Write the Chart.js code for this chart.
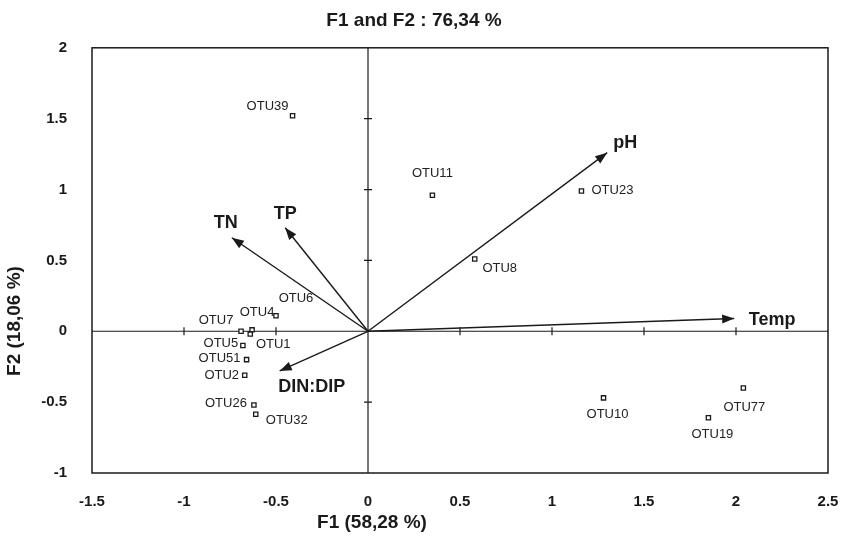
<!DOCTYPE html>
<html>
<head>
<meta charset="utf-8">
<script src="https://cdn.jsdelivr.net/npm/chart.js@4.4.1/dist/chart.umd.min.js"></script>
<style>
  html, body { margin: 0; padding: 0; background: #fff; }
  #wrap { width: 846px; height: 546px; }
</style>
</head>
<body>
<div id="wrap"><canvas id="biplot"></canvas></div>
<script>
// OTU scores (F1, F2)
const otuNames = ["OTU39", "OTU11", "OTU23", "OTU8", "OTU10", "OTU77", "OTU19", "OTU6",
                  "OTU7", "OTU4", "OTU1", "OTU5", "OTU51", "OTU2", "OTU26", "OTU32"];
const otuF1 = [-0.41, 0.35, 1.16, 0.58, 1.28, 2.04, 1.85, -0.50,
               -0.69, -0.63, -0.64, -0.68, -0.66, -0.67, -0.62, -0.61];
const otuF2 = [1.52, 0.96, 0.99, 0.51, -0.47, -0.40, -0.61, 0.11,
               0.00, 0.01, -0.02, -0.10, -0.20, -0.31, -0.52, -0.585];

// environmental vectors (arrow tips)
const varNames = ["pH", "Temp", "TN", "TP", "DIN:DIP"];
const varF1 = [1.30, 1.99, -0.74, -0.45, -0.48];
const varF2 = [1.26, 0.09, 0.66, 0.73, -0.28];

const xTicks = [-1.5, -1, -0.5, 0, 0.5, 1, 1.5, 2, 2.5];
const yTicks = [-1, -0.5, 0, 0.5, 1, 1.5, 2];

// label offsets in px (dx, dy) from marker
const otuLabelOffset = [[-25, -9], [0, -22], [31, -1], [25, 9], [4, 17], [1, 19], [4, 17], [20, -17],
                        [-25, -11], [5, -17], [23, 10], [-22, -2], [-27, -1], [-23, 0], [-28, -2], [31, 6]];
const varLabelOffset = [[18, -10], [38, 2], [-6, -15], [0, -14], [32, 16]];

const SANS = '"Liberation Sans", Arial, sans-serif';
const INK = "#1a1a1a";

const datasets = [{
  label: "OTUs",
  data: otuF1.map((x, i) => ({ x, y: otuF2[i] })),
  pointStyle: "rect",
  pointRadius: 3,
  pointBorderWidth: 1.3,
  pointBorderColor: INK,
  pointBackgroundColor: "#fff",
  showLine: false
}];
varNames.forEach((n, i) => {
  datasets.push({
    label: n,
    type: "line",
    data: [{ x: 0, y: 0 }, { x: varF1[i], y: varF2[i] }],
    borderColor: INK,
    borderWidth: 1.4,
    pointRadius: 0,
    fill: false
  });
});

const biplotDecor = {
  id: "biplotDecor",
  beforeDatasetsDraw(chart) {
    const { ctx, chartArea: a, scales: { x, y } } = chart;
    const x0 = x.getPixelForValue(0), y0 = y.getPixelForValue(0);
    ctx.save();
    ctx.strokeStyle = INK;
    ctx.lineWidth = 1.2;
    ctx.beginPath();
    ctx.moveTo(x0, a.top); ctx.lineTo(x0, a.bottom);
    ctx.moveTo(a.left, y0); ctx.lineTo(a.right, y0);
    xTicks.forEach(v => {
      if (v === 0 || v === xTicks[0] || v === xTicks[xTicks.length - 1]) return;
      const px = x.getPixelForValue(v);
      ctx.moveTo(px, y0 - 4); ctx.lineTo(px, y0 + 4);
    });
    yTicks.forEach(v => {
      if (v === 0 || v === yTicks[0] || v === yTicks[yTicks.length - 1]) return;
      const py = y.getPixelForValue(v);
      ctx.moveTo(x0 - 4, py); ctx.lineTo(x0 + 4, py);
    });
    ctx.stroke();
    ctx.lineWidth = 1.5;
    ctx.strokeRect(a.left, a.top, a.right - a.left, a.bottom - a.top);
    ctx.restore();
  },
  afterDatasetsDraw(chart) {
    const { ctx } = chart;
    ctx.save();
    // arrowheads + vector labels
    varNames.forEach((n, i) => {
      const pts = chart.getDatasetMeta(i + 1).data;
      const p0 = pts[0], p1 = pts[1];
      const ang = Math.atan2(p1.y - p0.y, p1.x - p0.x);
      const len = 12, half = 4.5;
      ctx.fillStyle = INK;
      ctx.beginPath();
      ctx.moveTo(p1.x, p1.y);
      ctx.lineTo(p1.x - len * Math.cos(ang) + half * Math.sin(ang), p1.y - len * Math.sin(ang) - half * Math.cos(ang));
      ctx.lineTo(p1.x - len * Math.cos(ang) - half * Math.sin(ang), p1.y - len * Math.sin(ang) + half * Math.cos(ang));
      ctx.closePath();
      ctx.fill();
      ctx.font = "bold 18px " + SANS;
      ctx.textAlign = "center";
      ctx.textBaseline = "middle";
      ctx.fillText(n, p1.x + varLabelOffset[i][0], p1.y + varLabelOffset[i][1]);
    });
    // OTU labels
    const meta = chart.getDatasetMeta(0).data;
    ctx.font = "13px " + SANS;
    ctx.fillStyle = "#222";
    ctx.textAlign = "center";
    ctx.textBaseline = "middle";
    otuNames.forEach((n, i) => {
      ctx.fillText(n, meta[i].x + otuLabelOffset[i][0], meta[i].y + otuLabelOffset[i][1]);
    });
    // axis titles (off-centre, as in the original)
    ctx.font = "bold 19px " + SANS;
    ctx.fillStyle = INK;
    ctx.fillText("F1 (58,28 %)", 372, 523);
    ctx.translate(15, 321);
    ctx.rotate(-Math.PI / 2);
    ctx.fillText("F2 (18,06 %)", 0, 0);
    ctx.restore();
  }
};

new Chart(document.getElementById("biplot"), {
  type: "scatter",
  data: { datasets },
  options: {
    responsive: true,
    maintainAspectRatio: false,
    animation: false,
    layout: { padding: { left: 0, right: 18, top: 0, bottom: 0 } },
    plugins: {
      legend: { display: false },
      tooltip: { enabled: false },
      title: {
        display: true,
        text: "F1 and F2 : 76,34 %",
        color: INK,
        font: { family: SANS, size: 19, weight: "bold" },
        padding: { top: 9, bottom: 16 }
      }
    },
    scales: {
      x: {
        type: "linear",
        min: -1.5, max: 2.5,
        afterBuildTicks: s => { s.ticks = xTicks.map(v => ({ value: v })); },
        afterFit: s => { s.height = 73; s.paddingLeft = 0; s.paddingRight = 0; },
        grid: { display: false },
        border: { display: false },
        ticks: { color: INK, padding: 12, callback: v => String(v), font: { family: SANS, size: 15, weight: "bold" } }
      },
      y: {
        type: "linear",
        min: -1, max: 2,
        afterBuildTicks: s => { s.ticks = yTicks.map(v => ({ value: v })); },
        afterFit: s => { s.width = 92; s.paddingTop = 0; s.paddingBottom = 0; },
        grid: { display: false },
        border: { display: false },
        ticks: { color: INK, padding: 17, callback: v => String(v), font: { family: SANS, size: 15, weight: "bold" } }
      }
    }
  },
  plugins: [biplotDecor]
});
</script>
</body>
</html>
